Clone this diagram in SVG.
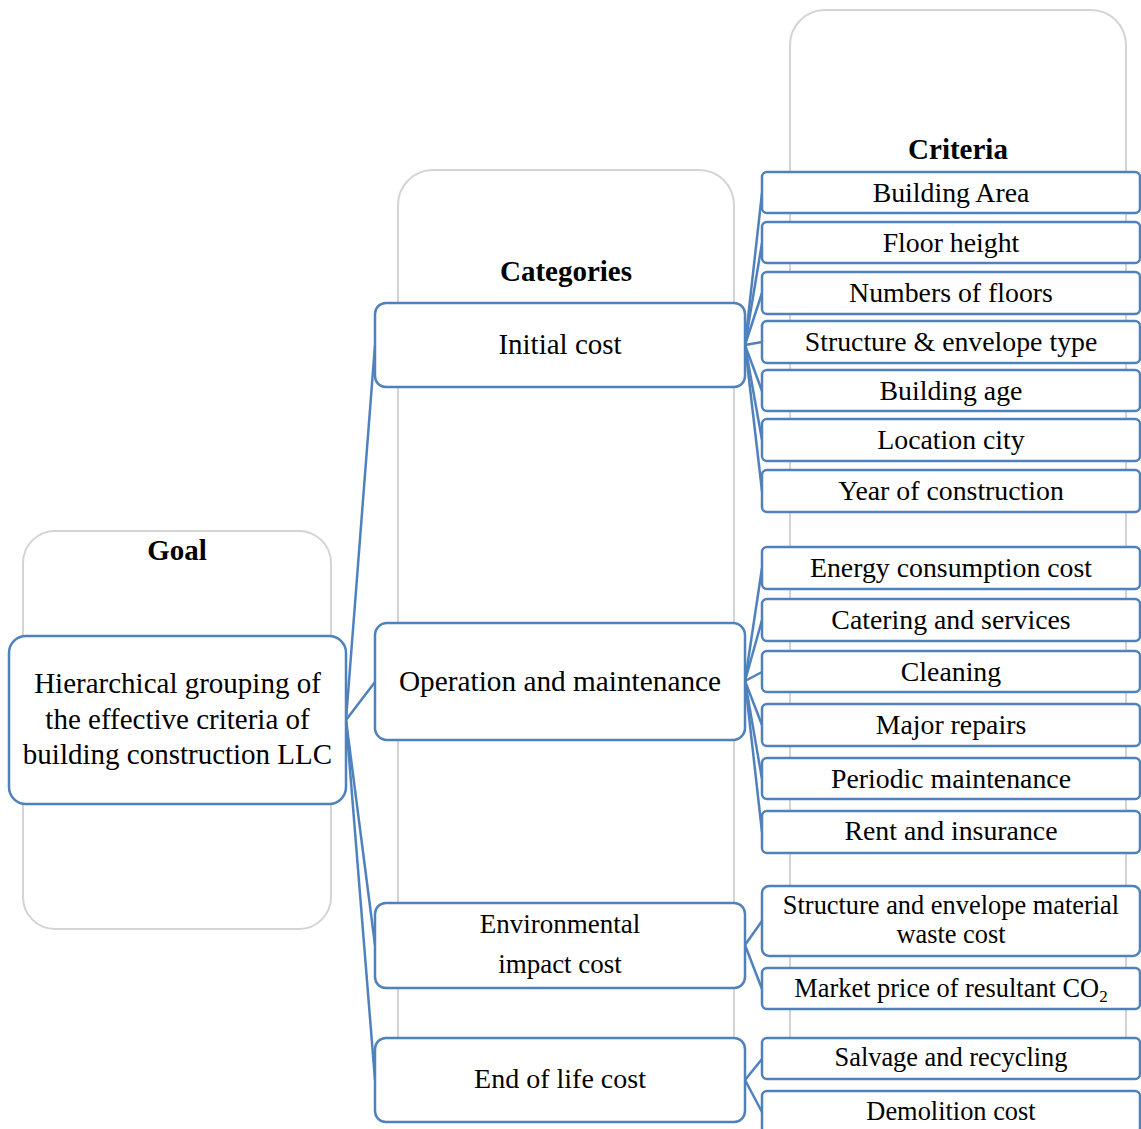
<svg xmlns="http://www.w3.org/2000/svg" width="1141" height="1129" viewBox="0 0 1141 1129">
<style>
.panel{fill:#fff;stroke:#d4d4d4;stroke-width:2}
.box{fill:#fff;stroke:#4F81BD;stroke-width:2.5}
.conn line{stroke:#4F81BD;stroke-width:2.5}
text{font-family:"Liberation Serif","Times New Roman",serif;fill:#000;text-anchor:middle}
.title{font-weight:bold;font-size:29px}
.cat{font-size:29px}
.cr{font-size:27.8px}
.cr3{font-size:26.4px}
</style>
<rect width="1141" height="1129" fill="#fff"/>
<g id="panels">
<rect id="panel-goal" class="panel" x="23" y="531" width="308" height="398" rx="32"/>
<rect id="panel-categories" class="panel" x="398" y="170" width="336" height="905" rx="35"/>
<rect id="panel-criteria" class="panel" x="790" y="10" width="336" height="1065" rx="35"/>
<text class="title" x="177" y="560">Goal</text>
<text class="title" x="566" y="281">Categories</text>
<text class="title" x="958" y="159">Criteria</text>
</g>
<g id="connectors" class="conn">
<line x1="346" y1="720" x2="375" y2="345"/>
<line x1="346" y1="720" x2="375" y2="682"/>
<line x1="346" y1="720" x2="375" y2="945"/>
<line x1="346" y1="720" x2="375" y2="1080"/>
<line x1="745" y1="345" x2="762" y2="193"/>
<line x1="745" y1="345" x2="762" y2="243"/>
<line x1="745" y1="345" x2="762" y2="293"/>
<line x1="745" y1="345" x2="762" y2="342"/>
<line x1="745" y1="345" x2="762" y2="391"/>
<line x1="745" y1="345" x2="762" y2="440"/>
<line x1="745" y1="345" x2="762" y2="491"/>
<line x1="745" y1="681" x2="762" y2="568"/>
<line x1="745" y1="681" x2="762" y2="620"/>
<line x1="745" y1="681" x2="762" y2="672"/>
<line x1="745" y1="681" x2="762" y2="725"/>
<line x1="745" y1="681" x2="762" y2="779"/>
<line x1="745" y1="681" x2="762" y2="832"/>
<line x1="745" y1="945" x2="762" y2="921"/>
<line x1="745" y1="945" x2="762" y2="989"/>
<line x1="745" y1="1080" x2="762" y2="1059"/>
<line x1="745" y1="1080" x2="762" y2="1112"/>
</g>
<g id="goal">
<rect class="box" x="9" y="636" width="337" height="168" rx="17"/>
<text class="cat" x="177.5" y="693">Hierarchical grouping of</text>
<text class="cat" x="177.5" y="728.5">the effective criteria of</text>
<text class="cat" x="177.5" y="764">building construction LLC</text>
</g>
<g id="cat-initial">
<rect class="box" x="375" y="303" width="370" height="84" rx="11"/>
<text class="cat" x="560" y="354">Initial cost</text>
</g>
<g id="cat-operation">
<rect class="box" x="375" y="623" width="370" height="117" rx="12"/>
<text class="cat" x="560" y="691" style="font-size:29.3px">Operation and maintenance</text>
</g>
<g id="cat-environmental">
<rect class="box" x="375" y="903" width="370" height="85" rx="11"/>
<text class="cat" x="560" y="933" style="font-size:27px">Environmental</text>
<text class="cat" x="560" y="973" style="font-size:27px">impact cost</text>
</g>
<g id="cat-endoflife">
<rect class="box" x="375" y="1038" width="370" height="84" rx="11"/>
<text class="cat" x="560" y="1088" style="font-size:28px">End of life cost</text>
</g>
<g id="cr-building-area"><rect class="box" x="762" y="172" width="378" height="41" rx="5"/><text class="cr" x="951" y="201.5">Building Area</text></g>
<g id="cr-floor-height"><rect class="box" x="762" y="222" width="378" height="41" rx="5"/><text class="cr" x="951" y="251.5">Floor height</text></g>
<g id="cr-numbers-floors"><rect class="box" x="762" y="272" width="378" height="42" rx="5"/><text class="cr" x="951" y="302">Numbers of floors</text></g>
<g id="cr-structure-type"><rect class="box" x="762" y="321" width="378" height="42" rx="5"/><text class="cr" x="951" y="351">Structure &amp; envelope type</text></g>
<g id="cr-building-age"><rect class="box" x="762" y="370" width="378" height="41" rx="5"/><text class="cr" x="951" y="399.5">Building age</text></g>
<g id="cr-location-city"><rect class="box" x="762" y="419" width="378" height="42" rx="5"/><text class="cr" x="951" y="449">Location city</text></g>
<g id="cr-year"><rect class="box" x="762" y="470" width="378" height="42" rx="5"/><text class="cr" x="951" y="500">Year of construction</text></g>
<g id="cr-energy"><rect class="box" x="762" y="547" width="378" height="42" rx="5"/><text class="cr" x="951" y="577">Energy consumption cost</text></g>
<g id="cr-catering"><rect class="box" x="762" y="599" width="378" height="42" rx="5"/><text class="cr" x="951" y="629">Catering and services</text></g>
<g id="cr-cleaning"><rect class="box" x="762" y="651" width="378" height="41" rx="5"/><text class="cr" x="951" y="680.5">Cleaning</text></g>
<g id="cr-major-repairs"><rect class="box" x="762" y="704" width="378" height="42" rx="5"/><text class="cr" x="951" y="734">Major repairs</text></g>
<g id="cr-periodic"><rect class="box" x="762" y="758" width="378" height="41" rx="5"/><text class="cr" x="951" y="787.5">Periodic maintenance</text></g>
<g id="cr-rent"><rect class="box" x="762" y="811" width="378" height="42" rx="5"/><text class="cr" x="951" y="840">Rent and insurance</text></g>
<g id="cr-waste"><rect class="box" x="762" y="886" width="378" height="70" rx="7"/><text class="cr3" x="951" y="914">Structure and envelope material</text><text class="cr3" x="951" y="943">waste cost</text></g>
<g id="cr-co2"><rect class="box" x="762" y="968" width="378" height="41" rx="5"/><text class="cr3" x="951" y="997">Market price of resultant CO<tspan dy="5" font-size="17">2</tspan></text></g>
<g id="cr-salvage"><rect class="box" x="762" y="1038" width="378" height="41" rx="5"/><text class="cr3" x="951" y="1066">Salvage and recycling</text></g>
<g id="cr-demolition"><rect class="box" x="762" y="1091" width="378" height="42" rx="5"/><text class="cr3" x="951" y="1120">Demolition cost</text></g>
</svg>
